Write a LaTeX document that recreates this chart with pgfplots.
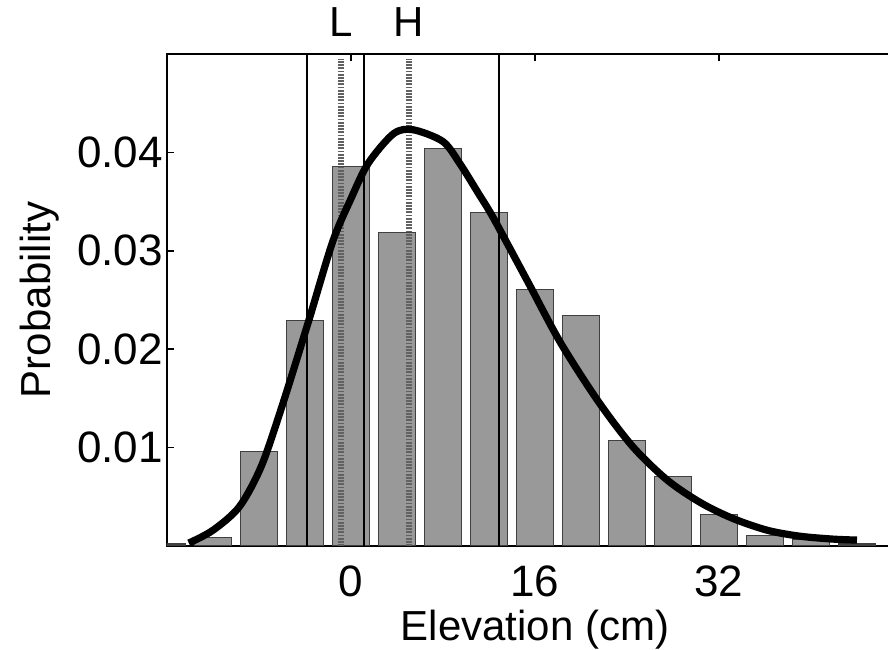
\documentclass[border=0pt]{standalone}
\usepackage{fontspec}
\setmainfont{Liberation Sans}
\usepackage{pgfplots}
\pgfplotsset{compat=1.18}

\definecolor{barfill}{gray}{0.6}
\definecolor{baredge}{gray}{0.25}
\definecolor{dashgray}{gray}{0.38}

\begin{document}
\begin{tikzpicture}
% page = 888x650 px at 0.25pt per px, axis lower left at px (167,546)
\useasboundingbox (-41.75pt,-26pt) rectangle (180.25pt,136.5pt);
\begin{axis}[
    scale only axis,
    width=184pt, height=123pt,
    xmin=-16, xmax=48,
    ymin=0, ymax=0.05,
    xtick={0,16,32},
    ytick={0.01,0.02,0.03,0.04},
    yticklabel style={/pgf/number format/fixed, /pgf/number format/precision=2,
        font=\fontsize{11}{13}\selectfont, xshift=2.5pt},
    xticklabel style={font=\fontsize{11}{13}\selectfont, yshift=-1.5pt},
    scaled y ticks=false,
    /pgf/number format/assume math mode=true,
    tick align=inside,
    major tick length=1.75pt,
    tick style={black, line width=0.4pt},
    axis line style={black, line width=0.5pt},
    label style={font=\fontsize{10.5}{12}\selectfont},
    xlabel={Elevation (cm)},
    ylabel={Probability},
    xlabel style={at={(axis description cs:0.5,-0.1707)}, anchor=center},
    ylabel style={at={(axis description cs:-0.1726,0.5)}, anchor=center},
    clip mode=individual,
]
% histogram
\addplot[ybar, bar width=3.2, fill=barfill, draw=baredge, line width=0.3pt]
  coordinates {
    (-16,0.0002) (-12,0.0009) (-8,0.0096) (-4,0.0229) (0,0.0386)
    (4,0.0319) (8,0.0404) (12,0.0339) (16,0.0261) (20,0.0234)
    (24,0.0107) (28,0.0071) (32,0.0032) (36,0.0011) (40,0.0007) (44,0.0002)
  };
% L and H markers
\addplot[dashgray, line width=1.3pt, dash pattern=on 0.45pt off 0.35pt]
  coordinates {(-0.87,0) (-0.87,0.0495)};
\addplot[dashgray, line width=1.3pt, dash pattern=on 0.45pt off 0.35pt]
  coordinates {(5.04,0) (5.04,0.0495)};
% solid reference lines
\addplot[black, line width=0.55pt] coordinates {(-3.83,0) (-3.83,0.05)};
\addplot[black, line width=0.55pt] coordinates {(1.13,0) (1.13,0.05)};
\addplot[black, line width=0.55pt] coordinates {(12.87,0) (12.87,0.05)};
% fitted density
\addplot[black, line width=1.8pt, smooth, tension=0.5] coordinates {
  (-14.1,0.0003) (-12.0,0.0016) (-9.7,0.0040) (-7.8,0.0081) (-6.0,0.0142)
  (-3.7,0.0228) (-1.6,0.0309) (0,0.0353) (1.5,0.0389) (3.7,0.0419)
  (5.4,0.0423) (8.0,0.0411) (9.5,0.0388) (11.1,0.0358) (12.4,0.0333)
  (15.4,0.0268) (18.2,0.0207) (21.5,0.0147) (24.5,0.0101) (27.5,0.0067)
  (30.4,0.0044) (33.2,0.0028) (36.2,0.0016) (39.0,0.0010) (41.9,0.0007)
  (44.0,0.0006)
};
\node[font=\fontsize{10.5}{12}\selectfont, anchor=center] at (axis cs:-0.87,0.05) [yshift=8pt] {L};
\node[font=\fontsize{10.5}{12}\selectfont, anchor=center] at (axis cs:5.04,0.05) [yshift=8pt] {H};
\end{axis}
\end{tikzpicture}
\end{document}
